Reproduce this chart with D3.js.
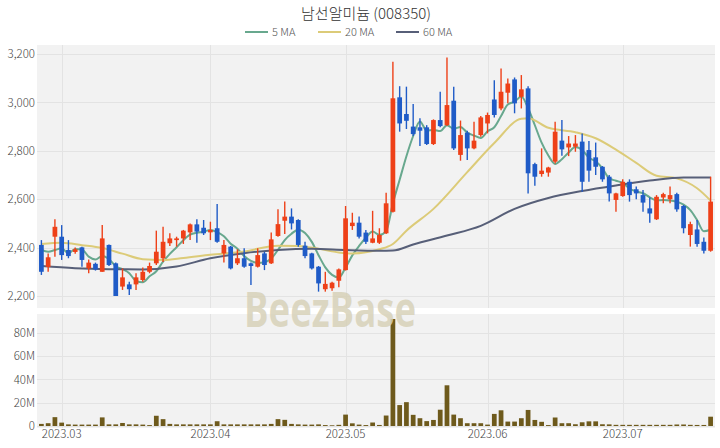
<!DOCTYPE html>
<html><head><meta charset="utf-8">
<script src="https://cdn.jsdelivr.net/npm/d3@7"></script>
<style>body{margin:0;background:#fff;} svg{display:block;font-family:"Noto Sans CJK KR","Noto Sans",sans-serif;}</style>
</head><body><svg id="c" width="720" height="448"></svg>
<script>
const dates = ["02-24","02-27","02-28",
"03-02","03-03","03-06","03-07","03-08","03-09","03-10","03-13","03-14","03-15","03-16","03-17","03-20","03-21","03-22","03-23","03-24","03-27","03-28","03-29","03-30","03-31",
"04-03","04-04","04-05","04-06","04-07","04-10","04-11","04-12","04-13","04-14","04-17","04-18","04-19","04-20","04-21","04-24","04-25","04-26","04-27","04-28",
"05-01","05-02","05-03","05-04","05-08","05-09","05-10","05-11","05-12","05-15","05-16","05-17","05-18","05-19","05-22","05-23","05-24","05-25","05-26","05-30","05-31",
"06-01","06-02","06-05","06-07","06-08","06-09","06-12","06-13","06-14","06-15","06-16","06-19","06-20","06-21","06-22","06-23","06-26","06-27","06-28","06-29",
"07-03","07-04","07-05","07-06","07-07","07-10","07-11","07-12","07-13","07-14","07-17","07-18","07-19","07-20"];

const open = [2411,2320,2445,2445,2390,2382,2401,2314,2333,2300, 2411,2335,2239,2248,2248,2266,2300,2335,2356,2418, 2431,2438,2463,2496,2482,2463,2480,2376,2404,2335, 2356,2335,2321,2376,2335,2448,2511,2528,2514,2408, 2376,2321,2228,2232,2263,2307,2489,2503,2462,2420, 2420,2459,2548,3021,2952,2900,2897,2897,2828,2927, 2906,3007,2783,2875,2810,2865,2913,3012,2975,3040, 3095,3023,3058,2745,2704,2710,2755,2842,2814,2817, 2838,2803,2773,2734,2693,2597,2613,2672,2641,2617, 2562,2517,2607,2600,2621,2572,2452,2475,2424,2387];
const high = [2431,2376,2517,2493,2431,2400,2404,2351,2338,2493, 2413,2338,2314,2259,2294,2318,2338,2470,2486,2459, 2445,2473,2500,2517,2514,2507,2580,2431,2407,2393, 2397,2338,2397,2383,2462,2558,2590,2562,2517,2424, 2379,2324,2300,2259,2314,2572,2544,2528,2473,2552, 2480,2627,3168,3067,3065,2993,2934,2906,2930,3044, 3186,3065,2925,2883,2920,2944,2958,3092,3140,3099, 3103,3113,3067,2751,2810,2734,2920,2927,2861,2865, 2872,2841,2834,2737,2700,2627,2682,2682,2652,2638, 2607,2617,2627,2652,2627,2576,2507,2514,2442,2693];
const low = [2287,2300,2362,2349,2356,2375,2321,2294,2305,2300, 2324,2200,2225,2204,2225,2259,2294,2328,2341,2407, 2404,2415,2431,2420,2452,2431,2420,2338,2310,2328, 2317,2245,2318,2307,2332,2445,2456,2475,2404,2356, 2310,2218,2218,2222,2236,2305,2473,2438,2415,2418, 2415,2456,2545,2879,2890,2861,2820,2824,2824,2897, 2902,2803,2759,2762,2806,2858,2872,2938,2968,2996, 2955,2975,2624,2656,2693,2693,2748,2780,2778,2796, 2631,2672,2700,2672,2590,2548,2610,2590,2600,2548, 2503,2514,2583,2583,2548,2459,2404,2404,2376,2383];
const close = [2300,2360,2486,2369,2365,2393,2349,2338,2310,2438, 2328,2200,2277,2228,2277,2300,2324,2383,2424,2438, 2438,2470,2496,2466,2459,2473,2424,2411,2314,2356, 2321,2324,2369,2328,2434,2497,2528,2500,2411,2365, 2314,2252,2250,2255,2310,2521,2503,2445,2424,2438, 2452,2583,3017,2913,2924,2869,2883,2828,2927,2902, 2989,2810,2865,2810,2842,2938,2948,2948,3044,3078, 2996,3054,2707,2693,2718,2731,2879,2806,2830,2830, 2672,2718,2734,2682,2624,2624,2672,2617,2624,2586, 2541,2610,2621,2617,2558,2480,2497,2415,2387,2590];
// volume in millions of shares
const volume = [1.8,2.4,7.6,2.9,1.4,1.2,1.2,1.2,1.2,7.4, 1.4,1.4,2.6,1.4,1.4,1.2,0.8,8.8,5.9,1.8, 1.4,1.4,1.4,1.4,1.4,1.4,4.1,1.4,1.4,1.4, 1.4,1.4,1.4,1.4,1.8,5.9,5.3,1.8,1.4,1.2, 1.2,1.4,0.8,0.6,1.0,9.8,2.3,1.2,0.8,3.0, 0.9,9.0,92,18,20.5,9.6,6.7,4.2,5.2,14, 35,9.8,6.7,2.4,2.4,2.4,1.2,10.4,13.5,3.8, 3.8,6.7,13.8,5.2,3.6,0.8,7.3,2.4,2.4,1.5, 3.2,4.0,4.0,1.5,1.4,1.0,1.0,1.0,1.0,1.0, 1.0,1.0,1.0,1.0,1.3,1.3,1.0,0.9,0.9,8.0];

// 5 MA values for the first four days (window reaches before the chart)
const ma5Lead = [2390, 2383, 2390, 2397];
// 20 MA and 60 MA at these day indices
const ma20Idx = [0,3,6,9,12,15,18,21,25,30,35,38,41,44,46,50,52,54,58,63,67,71,72,75,79,82,85,88,91,94,97,99];
const ma20Val = [2415,2420,2410,2398,2375,2352,2349,2357,2370,2384,2408,2407,2395,2380,2376,2393,2415,2470,2560,2712,2832,2932,2934,2895,2877,2852,2805,2750,2697,2686,2645,2594];
const ma60Idx = [0,5,10,15,20,25,30,35,40,45,50,52,55,60,65,70,75,80,85,90,95,99];
const ma60Val = [2324,2315,2311,2310,2322,2356,2377,2390,2395,2390,2387,2388,2413,2450,2490,2560,2605,2634,2657,2677,2690,2690];

const priceTicks = [2200,2400,2600,2800,3000,3200];
const volTicks = [0,20,40,60,80];
const tickDates = ["03-02","04-03","05-01","06-01","07-03"];
const tickLabels = ["2023.03","2023.04","2023.05","2023.06","2023.07"];
const seriesNames = ["5 MA","20 MA","60 MA"];

const svg = d3.select("#c");
const L = 37, R = 715, PT = 45, PB = 308, VT = 314, VB = 428;
const UP = "#ee4018", DOWN = "#1f5bc7";
const colMA = ["#68a88e", "#dccb78", "#575f78"];
const FONT = "'Noto Sans CJK KR', sans-serif";

const x = d3.scaleBand().domain(dates).range([L, R]).padding(0.3);
const cx = d => x(d) + x.bandwidth() / 2;
const y = d3.scaleLinear().domain([2150.4, 3237.2]).range([PB, PT]);
const yv = d3.scaleLinear().domain([-1.72, 96.3]).range([VB, VT]);

// backgrounds
svg.append("rect").attr("x", L).attr("y", PT).attr("width", R - L).attr("height", PB - PT).attr("fill", "#f2f2f2");
svg.append("rect").attr("x", L).attr("y", VT).attr("width", R - L).attr("height", VB - VT).attr("fill", "#f2f2f2");

const grid = svg.append("g").attr("stroke", "#e3e3e3").attr("stroke-width", 1);
priceTicks.forEach(t => grid.append("line").attr("x1", L).attr("x2", R).attr("y1", Math.round(y(t)) + 0.5).attr("y2", Math.round(y(t)) + 0.5));
volTicks.forEach(t => grid.append("line").attr("x1", L).attr("x2", R).attr("y1", Math.round(yv(t)) + 0.5).attr("y2", Math.round(yv(t)) + 0.5));
tickDates.forEach(d => {
  const xx = Math.round(cx(d)) + 0.5;
  grid.append("line").attr("x1", xx).attr("x2", xx).attr("y1", PT).attr("y2", PB);
  grid.append("line").attr("x1", xx).attr("x2", xx).attr("y1", VT).attr("y2", VB);
});

function styleAxis(g) {
  g.select(".domain").remove();
  g.selectAll("text").attr("font-size", 11.5).attr("fill", "#444").attr("font-weight", 300).attr("font-family", FONT);
}
// axes labels
const yAxis = d3.axisLeft(y).tickValues(priceTicks).tickFormat(d3.format(",")).tickSize(0).tickPadding(2);
svg.append("g").attr("transform", `translate(${L},0)`).call(yAxis).call(styleAxis);

const vAxis = d3.axisLeft(yv).tickValues(volTicks).tickFormat(d => d === 0 ? "0" : d + "M").tickSize(0).tickPadding(2);
svg.append("g").attr("transform", `translate(${L},0)`).call(vAxis).call(styleAxis);

const xAxis = d3.axisBottom(x).tickValues(tickDates).tickFormat((d, i) => tickLabels[i]).tickSize(0).tickPadding(2);
svg.append("g").attr("transform", `translate(0,${VB})`).call(xAxis).call(styleAxis);

// moving averages
const ma5 = close.map((c, i) => i < 4 ? ma5Lead[i] : d3.mean(close.slice(i - 4, i + 1)));
const line = d3.line().curve(d3.curveMonotoneX);
const pts5 = ma5.map((v, i) => [cx(dates[i]), y(v)]);
const pts20 = ma20Idx.map((k, j) => [cx(dates[k]), y(ma20Val[j])]);
const pts60 = ma60Idx.map((k, j) => [cx(dates[k]), y(ma60Val[j])]);
[pts5, pts20, pts60].forEach((p, k) => {
  svg.append("path").attr("d", line(p)).attr("fill", "none").attr("stroke", colMA[k]).attr("stroke-width", 2);
});

// candles
const bw = x.bandwidth();
const cg = svg.append("g");
dates.forEach((d, i) => {
  const up = close[i] >= open[i];
  const col = up ? UP : DOWN;
  cg.append("line").attr("x1", cx(d)).attr("x2", cx(d)).attr("y1", y(high[i])).attr("y2", y(low[i])).attr("stroke", col).attr("stroke-width", 1.4);
  const top = y(Math.max(open[i], close[i])), bot = y(Math.min(open[i], close[i]));
  cg.append("rect").attr("x", x(d)).attr("width", bw).attr("y", top).attr("height", Math.max(1.5, bot - top)).attr("fill", col);
});

// volume
svg.append("g").selectAll("rect").data(dates).join("rect")
  .attr("x", d => x(d)).attr("width", bw)
  .attr("y", (d, i) => yv(volume[i])).attr("height", (d, i) => yv(0) - yv(volume[i]))
  .attr("fill", "#6e5a1c");

// watermark
svg.append("text").attr("x", 244).attr("y", 327).attr("font-size", 48).attr("font-weight", "bold")
  .attr("font-family", "'Open Sans', 'Noto Sans', sans-serif")
  .attr("textLength", 172).attr("lengthAdjust", "spacingAndGlyphs")
  .attr("fill", "#d7d1b8").attr("fill-opacity", 0.85).text("BeezBase");

// title
svg.append("text").attr("x", 366).attr("y", 19).attr("text-anchor", "middle").attr("font-size", 15)
  .attr("font-weight", 300).attr("fill", "#333").text("남선알미늄 (008350)");

// legend
const legX = [245, 318, 396];
seriesNames.forEach((n, k) => {
  svg.append("line").attr("x1", legX[k]).attr("x2", legX[k] + 23).attr("y1", 32).attr("y2", 32).attr("stroke", colMA[k]).attr("stroke-width", 2);
  svg.append("text").attr("x", legX[k] + 27).attr("y", 36).attr("font-size", 11).attr("font-weight", 300).attr("fill", "#555").text(n);
});
</script>
</body></html>
